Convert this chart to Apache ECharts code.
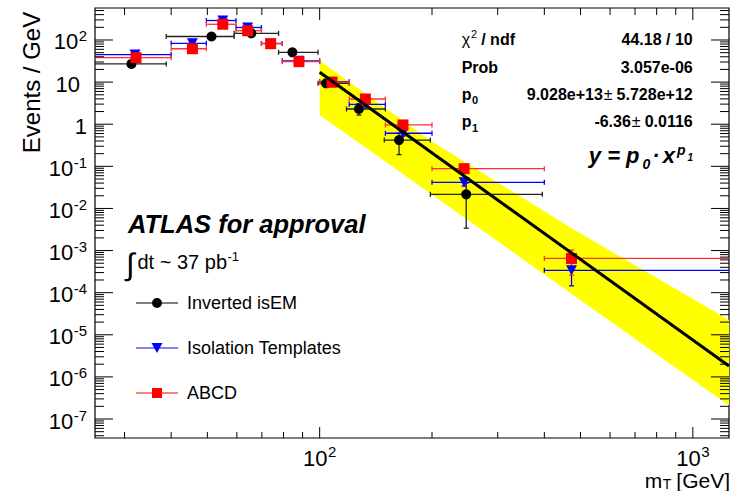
<!DOCTYPE html>
<html>
<head>
<meta charset="utf-8">
<title>Fake background m_T spectrum</title>
<script src="https://cdn.jsdelivr.net/npm/echarts@6.0.0/dist/echarts.min.js"></script>
<style>
  html, body { margin: 0; padding: 0; background: #fff; }
  #chart { width: 736px; height: 491px; }
</style>
</head>
<body>
<div id="chart"></div>
<script>
// Axis ranges: m_T [GeV] and Events / GeV
const X_RANGE = [25, 1250];
const Y_RANGE = [3.54e-8, 575];

// Labelled decades and the mantissas of the minor log ticks
const X_LABEL_DECADES = [2, 3];
const Y_LABEL_DECADES = [-7, -6, -5, -4, -3, -2, -1, 0, 1, 2];
const MINOR_MANTISSAS = [2, 3, 4, 5, 6, 7, 8, 9];

// Inverted isEM
const isemX   = [31.3, 51.3, 65.6, 84.5, 104, 127.4, 163.2, 247];
const isemXLo = [20, 38.8, 59, 77.6, 99, 118, 149, 198];
const isemXHi = [38.8, 59, 77.6, 99, 120, 150, 198, 395];
const isemY   = [27, 121, 144, 51, 9.35, 2.3, 0.42, 0.0216];
const isemYLo = [24.5, 113, 135, 47.5, 8.7, 1.65, 0.19, 0.0034];
const isemYHi = [29.5, 129, 153, 54.5, 10, 3.1, 0.62, 0.04];

// Isolation Templates
const isoX   = [32, 45.6, 55, 64.1, 73.9, 88, 107.9, 132.6, 167.2, 243.8, 473];
const isoXLo = [20, 40, 49.7, 59.7, 69.8, 79.4, 100, 120, 150, 200, 400];
const isoXHi = [40, 49.7, 59.7, 69.8, 79.4, 100, 120, 150, 200, 400, 2000];
const isoY   = [45, 83.5, 290, 198, 83, 32, 10.2, 2.97, 0.61, 0.0417, 3.4e-4];
const isoYLo = [42, 79, 276, 189, 79, 30.3, 9.6, 2.65, 0.52, 0.034, 1.45e-4];
const isoYHi = [48, 88, 304, 207, 87, 33.7, 10.8, 3.3, 0.7, 0.049, 5.4e-4];

// ABCD
const abcdX   = [32.2, 45.6, 55, 64.1, 73.9, 88, 107.9, 132.6, 167.2, 243.8, 473];
const abcdXLo = [20, 40, 49.7, 59.7, 69.8, 79.4, 100, 120, 150, 200, 400];
const abcdXHi = [40, 49.7, 59.7, 69.8, 79.4, 100, 120, 150, 200, 400, 2000];
const abcdY   = [38, 62, 236, 166, 81.6, 30.6, 9.9, 3.97, 0.96, 0.088, 6.5e-4];
const abcdYLo = [36, 59, 226, 159, 78, 29.2, 9.4, 3.7, 0.88, 0.08, 2.6e-4];
const abcdYHi = [40, 65, 246, 173, 85, 32, 10.4, 4.25, 1.04, 0.096, 1.03e-3];

// Power-law fit y = p0 * x^p1 over its range
const FIT_P0 = 9.028e13;
const FIT_P1 = -6.36;
const FIT_RANGE = [100, 1250];

// Uncertainty band around the fit (upper and lower edges)
const BAND_UP_X = [100, 197, 477, 1250];
const BAND_UP   = [32.6, 0.42, 3.24e-3, 2.25e-5];
const BAND_LO_X = [100, 1250];
const BAND_LO   = [1.65, 2.1e-7];

const FF = '"Liberation Sans", Arial, Helvetica, sans-serif';
const font = (size, weight = 'normal', style = 'normal') => `${style} ${weight} ${size}px ${FF}`;

const measureCtx = document.createElement('canvas').getContext('2d');
function textWidth(t, f) { measureCtx.font = f; return measureCtx.measureText(t).width; }

// Lay out a run of text pieces (with sub/superscripts) on one line
function run(x, y, anchor, pieces) {
  const widths = pieces.map(p => (p.pad || 0) + textWidth(p.t, p.f));
  const total = widths.reduce((a, b) => a + b, 0);
  let cx = anchor === 'left' ? x : anchor === 'right' ? x - total : x - total / 2;
  return pieces.map((p, i) => {
    const el = {
      type: 'text', x: cx + (p.pad || 0), y: y + (p.dy || 0), silent: true,
      style: { text: p.t, font: p.f, fill: '#000', textAlign: 'left', textVerticalAlign: 'middle' }
    };
    cx += widths[i];
    return el;
  });
}

function errorBars(name, color, xs, xlo, xhi, ys, ylo, yhi) {
  return {
    type: 'custom', name: name + ' errors', coordinateSystem: 'cartesian2d',
    clip: true, silent: true, z: 2,
    data: xs.map((x, i) => [x, ys[i], xlo[i], xhi[i], ylo[i], yhi[i]]),
    encode: { x: 0, y: 1 },
    renderItem(params, api) {
      const x = api.value(0), y = api.value(1);
      const l = api.coord([api.value(2), y]), r = api.coord([api.value(3), y]);
      const b = api.coord([x, api.value(4)]), t = api.coord([x, api.value(5)]);
      const cap = 2.5;
      const st = { stroke: color, lineWidth: 1.3 };
      const seg = (x1, y1, x2, y2) => ({ type: 'line', shape: { x1, y1, x2, y2 }, style: st });
      return {
        type: 'group', children: [
          seg(l[0], l[1], r[0], r[1]),
          seg(l[0], l[1] - cap, l[0], l[1] + cap),
          seg(r[0], r[1] - cap, r[0], r[1] + cap),
          seg(t[0], t[1], b[0], b[1]),
          seg(t[0] - cap, t[1], t[0] + cap, t[1]),
          seg(b[0] - cap, b[1], b[0] + cap, b[1])
        ]
      };
    }
  };
}

function markers(name, color, symbol, size, xs, ys, rotate) {
  return {
    type: 'scatter', name, symbol, symbolSize: size, symbolRotate: rotate || 0,
    itemStyle: { color, opacity: 1 }, z: 2, silent: true,
    data: xs.map((x, i) => [x, ys[i]])
  };
}

// log tick positions
const yTicks = [];
for (let e = -8; e <= 2; e++) {
  for (const m of [1, ...MINOR_MANTISSAS]) {
    const v = m * Math.pow(10, e);
    if (v >= Y_RANGE[0] && v <= Y_RANGE[1]) yTicks.push([X_RANGE[0], v, m === 1 ? 1 : 0]);
  }
}
const xTicks = [];
for (let e = 1; e <= 3; e++) {
  for (const m of [1, ...MINOR_MANTISSAS]) {
    const v = m * Math.pow(10, e);
    if (v >= X_RANGE[0] && v <= X_RANGE[1]) xTicks.push([v, Y_RANGE[0], m === 1 ? 1 : 0]);
  }
}

const tickLine = (x1, y1, x2, y2) => ({ type: 'line', shape: { x1, y1, x2, y2 }, style: { stroke: '#000', lineWidth: 1 } });
const F_TICK = font(22), F_TICK_SUP = font(15);

const chart = echarts.init(document.getElementById('chart'), null, { renderer: 'svg' });

const ICON_CIRCLE = 'path://M0,4.4L42,4.4L42,5.6L0,5.6Z M26,5A5,5,0,1,1,16,5A5,5,0,1,1,26,5Z';
const ICON_TRIANGLE = 'path://M0,4.4L42,4.4L42,5.6L0,5.6Z M15.5,0L26.5,0L21,10Z';
const ICON_SQUARE = 'path://M0,4.4L42,4.4L42,5.6L0,5.6Z M16,0L26,0L26,10L16,10Z';

const B16 = font(16, 'bold'), B11 = font(11, 'bold'), R16 = font(16), R11 = font(11);
const BI22 = font(22, 'bold', 'italic'), BI14 = font(14, 'bold', 'italic'), BI10 = font(10, 'bold', 'italic');

const texts = [].concat(
  // fit statistics
  run(461.7, 39, 'left', [{ t: 'χ', f: R16 }, { t: '2', f: R11, dy: -5, pad: 1 }, { t: '/ ndf', f: B16, pad: 4 }]),
  run(692.7, 39, 'right', [{ t: '44.18 / 10', f: B16 }]),
  run(461.7, 67.5, 'left', [{ t: 'Prob', f: B16 }]),
  run(692.7, 67.5, 'right', [{ t: '3.057e-06', f: B16 }]),
  run(461.7, 94, 'left', [{ t: 'p', f: B16 }, { t: '0', f: B11, dy: 6, pad: 0.5 }]),
  run(692.7, 94, 'right', [{ t: '9.028e+13', f: B16 }, { t: '±', f: R16, pad: 1 }, { t: '5.728e+12', f: B16, pad: 4 }]),
  run(461.7, 121.5, 'left', [{ t: 'p', f: B16 }, { t: '1', f: B11, dy: 6, pad: 0.5 }]),
  run(692.7, 121.5, 'right', [{ t: '-6.36', f: B16 }, { t: '±', f: R16, pad: 1 }, { t: '0.0116', f: B16, pad: 4 }]),
  // fit function
  run(693, 155, 'right', [
    { t: 'y = p', f: BI22 }, { t: '0', f: BI14, dy: 9, pad: 3 }, { t: '·', f: BI22, pad: 2 },
    { t: 'x', f: BI22, pad: 3 }, { t: 'p', f: BI14, dy: -5, pad: 2 }, { t: '1', f: BI10, dy: 2, pad: 2 }
  ]),
  // experiment tag and luminosity
  run(128, 223.5, 'left', [{ t: 'ATLAS for approval', f: font(25.5, 'bold', 'italic') }]),
  run(126, 262, 'left', [{ t: '∫', f: font(31), dy: 2 }, { t: 'dt ~ 37 pb', f: font(20), pad: 3 }, { t: '-1', f: font(13), dy: -6, pad: 0.5 }]),
  // x axis title
  run(730, 480, 'right', [{ t: 'm', f: font(21) }, { t: 'T', f: font(14), dy: 4, pad: 0.5 }, { t: '[GeV]', f: font(21), pad: 5 }]),
  // y axis title
  [{
    type: 'text', x: 31.5, y: 82.5, rotation: Math.PI / 2, silent: true,
    style: { text: 'Events / GeV', font: font(24), fill: '#000', textAlign: 'center', textVerticalAlign: 'middle' }
  }]
);

chart.setOption({
  animation: false,
  backgroundColor: '#fff',
  grid: { left: 95, right: 7, top: 8, bottom: 53, show: true, borderColor: '#000', borderWidth: 1.2, backgroundColor: 'transparent' },
  xAxis: {
    type: 'log', logBase: 10, min: X_RANGE[0], max: X_RANGE[1],
    axisLine: { show: false }, axisTick: { show: false }, axisLabel: { show: false }, splitLine: { show: false }
  },
  yAxis: {
    type: 'log', logBase: 10, min: Y_RANGE[0], max: Y_RANGE[1],
    axisLine: { show: false }, axisTick: { show: false }, axisLabel: { show: false }, splitLine: { show: false }
  },
  legend: {
    orient: 'vertical', left: 136, top: 293, padding: 0, itemWidth: 42, itemHeight: 10, itemGap: 25,
    selectedMode: false,
    textStyle: { fontFamily: FF, fontSize: 18, color: '#000', lineHeight: 20, padding: [0, 0, 0, 4] },
    data: [
      { name: 'Inverted isEM', icon: ICON_CIRCLE },
      { name: 'Isolation Templates', icon: ICON_TRIANGLE },
      { name: 'ABCD', icon: ICON_SQUARE }
    ]
  },
  graphic: { elements: texts },
  series: [
    {
      type: 'custom', name: 'fit band', coordinateSystem: 'cartesian2d', clip: true, silent: true, z: 1,
      data: [[BAND_UP_X[0], BAND_UP[0]]],
      renderItem(params, api) {
        const pts = BAND_UP_X.map((x, i) => api.coord([x, BAND_UP[i]]));
        for (let i = BAND_LO_X.length - 1; i >= 0; i--) pts.push(api.coord([BAND_LO_X[i], BAND_LO[i]]));
        return { type: 'polygon', shape: { points: pts }, style: { fill: '#ffff00' } };
      }
    },
    errorBars('Inverted isEM', '#222', isemX, isemXLo, isemXHi, isemY, isemYLo, isemYHi),
    markers('Inverted isEM', '#000', 'circle', 10, isemX, isemY),
    errorBars('Isolation Templates', '#0000ff', isoX, isoXLo, isoXHi, isoY, isoYLo, isoYHi),
    markers('Isolation Templates', '#0000ff', 'triangle', [11, 10], isoX, isoY, 180),
    errorBars('ABCD', '#ff3030', abcdX, abcdXLo, abcdXHi, abcdY, abcdYLo, abcdYHi),
    markers('ABCD', '#ff0000', 'rect', 11, abcdX, abcdY),
    {
      type: 'line', name: 'power-law fit', z: 3, silent: true, clip: true,
      symbol: 'none', lineStyle: { color: '#000', width: 3 },
      data: FIT_RANGE.map(x => [x, FIT_P0 * Math.pow(x, FIT_P1)])
    },
    {
      type: 'custom', name: 'y ticks', coordinateSystem: 'cartesian2d', silent: true, z: 4,
      data: yTicks,
      renderItem(params, api) {
        const cs = params.coordSys;
        const y = api.coord([X_RANGE[0], api.value(1)])[1];
        const len = api.value(2) ? 18 : 9;
        return {
          type: 'group', children: [
            tickLine(cs.x, y, cs.x + len, y),
            tickLine(cs.x + cs.width, y, cs.x + cs.width - len, y)
          ]
        };
      }
    },
    {
      type: 'custom', name: 'x ticks', coordinateSystem: 'cartesian2d', silent: true, z: 4,
      data: xTicks,
      renderItem(params, api) {
        const cs = params.coordSys;
        const x = api.coord([api.value(0), Y_RANGE[0]])[0];
        const major = api.value(2);
        const lb = major ? 11 : 6, lt = major ? 12 : 7;
        return {
          type: 'group', children: [
            tickLine(x, cs.y + cs.height, x, cs.y + cs.height - lb),
            tickLine(x, cs.y, x, cs.y + lt)
          ]
        };
      }
    },
    {
      type: 'custom', name: 'y labels', coordinateSystem: 'cartesian2d', silent: true, z: 4,
      data: Y_LABEL_DECADES.map(e => [X_RANGE[0], Math.pow(10, e), e]),
      renderItem(params, api) {
        const cs = params.coordSys;
        const e = api.value(2);
        const y = api.coord([X_RANGE[0], api.value(1)])[1];
        let pieces;
        if (e === 0) pieces = [{ t: '1', f: F_TICK }];
        else if (e === 1) pieces = [{ t: '10', f: F_TICK }];
        else pieces = [{ t: '10', f: F_TICK }, { t: String(e), f: F_TICK_SUP, dy: -6, pad: 0.5 }];
        const right = cs.x - 8 - (e === 1 ? 7 : 0);
        return { type: 'group', children: run(right, y + 2, 'right', pieces) };
      }
    },
    {
      type: 'custom', name: 'x labels', coordinateSystem: 'cartesian2d', silent: true, z: 4,
      data: X_LABEL_DECADES.map(e => [Math.pow(10, e), Y_RANGE[0], e]),
      renderItem(params, api) {
        const cs = params.coordSys;
        const x = api.coord([api.value(0), Y_RANGE[0]])[0];
        const pieces = [{ t: '10', f: F_TICK }, { t: String(api.value(2)), f: F_TICK_SUP, dy: -7, pad: 0.5 }];
        return { type: 'group', children: run(x, cs.y + cs.height + 20, 'center', pieces) };
      }
    }
  ]
});
</script>
</body>
</html>
